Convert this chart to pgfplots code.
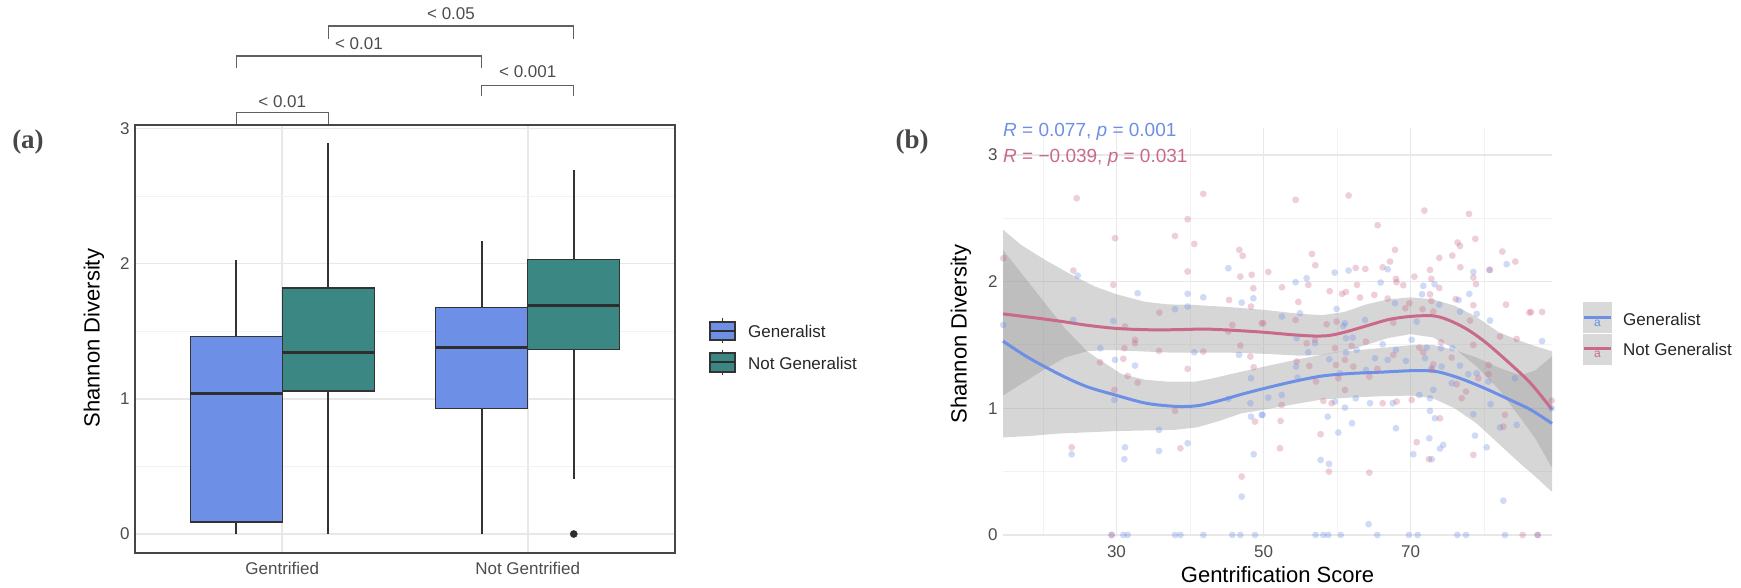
\documentclass[border=0pt]{standalone}
\usepackage{fontspec}
\setmainfont{Liberation Sans}
\newfontfamily\serifbold{Liberation Serif}
\usepackage{pgfplots}
\pgfplotsset{compat=1.18}
\usepgfplotslibrary{statistics}
\definecolor{genblue}{RGB}{109,143,229}
\definecolor{ngteal}{RGB}{59,135,132}
\definecolor{ngpink}{RGB}{201,106,139}
\definecolor{tickgray}{RGB}{77,77,77}
\definecolor{gridmaj}{RGB}{232,232,232}
\definecolor{gridmin}{RGB}{242,242,242}
\definecolor{bandgray}{RGB}{153,153,153}
\definecolor{keygray}{RGB}{217,217,217}

\pgfplotstableread{
x y
24.72 2.047
45.22 2.105
32.88 1.908
39.68 1.903
41.81 1.876
47.03 1.834
48.62 1.868
37.96 1.782
39.68 1.803
14.60 1.658
24.13 1.697
29.57 1.689
54.37 1.995
55.87 2.026
59.68 2.071
61.58 2.087
65.94 1.992
66.89 2.097
71.74 1.966
71.56 1.900
73.28 1.979
78.55 2.076
80.72 2.092
83.08 2.137
78.00 1.903
76.55 1.855
73.92 1.818
67.89 1.829
54.96 1.750
52.51 1.724
59.95 1.784
61.08 1.671
63.81 1.697
76.73 1.763
79.00 1.745
80.81 1.692
70.84 1.684
60.86 1.650
27.80 1.474
29.80 1.382
40.59 1.442
46.67 1.421
32.52 1.337
48.30 1.237
29.71 1.066
45.22 1.074
48.21 1.040
48.30 0.934
49.75 0.948
35.78 0.829
23.90 0.637
31.16 0.692
31.07 0.598
35.78 0.663
39.68 0.724
48.66 0.637
47.03 0.303
29.34 0
30.93 0
31.52 0
37.96 0
38.69 0
41.81 0
45.76 0
46.85 0
48.84 0
54.51 1.553
57.00 1.513
61.22 1.553
62.13 1.558
66.21 1.505
68.02 1.461
70.16 1.540
72.20 1.479
74.14 1.474
75.69 1.474
61.22 1.440
62.67 1.461
65.17 1.395
66.89 1.382
69.38 1.374
71.97 1.395
56.10 1.442
58.95 1.387
54.42 1.329
54.64 1.242
60.40 1.276
63.94 1.303
72.88 1.316
74.24 1.329
76.73 1.337
77.86 1.269
79.00 1.276
80.59 1.211
75.60 1.198
50.65 1.084
52.47 1.105
49.88 0.948
59.72 1.053
61.08 1.005
62.54 1.079
64.49 1.040
67.57 1.040
71.20 1.105
72.65 1.079
73.10 1.145
72.65 0.979
73.33 0.921
78.55 0.953
80.90 1.032
84.21 1.237
84.44 0.869
82.17 0.848
58.73 0.934
62.04 0.882
60.18 0.808
68.02 0.842
72.56 0.763
74.46 0.711
74.01 0.682
70.38 0.637
78.77 0.784
80.36 0.692
57.77 0.592
58.91 0.561
72.88 0.598
82.63 0.271
64.30 0.085
57.09 0
58.14 0
58.82 0
60.50 0
65.48 0
69.79 0
70.97 0
76.37 0
77.55 0
82.85 0
87.30 0
87.90 1.53
89.20 1.00
}\genpts

\pgfplotstableread{
x y
24.58 2.658
41.81 2.692
39.68 2.492
29.80 2.342
37.96 2.360
40.59 2.297
14.60 2.184
24.13 2.087
39.68 2.079
46.71 2.250
47.17 2.203
46.85 2.039
48.39 2.053
48.62 1.947
29.57 1.974
45.31 1.855
48.30 1.803
35.83 1.755
45.76 1.658
45.22 1.605
49.75 1.671
31.16 1.645
32.52 1.540
54.37 2.645
61.58 2.679
71.88 2.560
77.96 2.534
65.53 2.445
78.82 2.337
76.41 2.308
76.73 2.281
67.89 2.250
56.59 2.218
57.05 2.129
50.65 2.076
62.54 2.108
63.85 2.100
66.21 2.113
67.21 2.158
73.92 2.187
75.69 2.205
76.78 2.113
82.49 2.237
84.26 2.158
80.81 2.092
78.55 2.032
78.91 1.979
68.02 2.021
68.11 1.995
70.52 2.039
69.02 1.971
72.83 2.021
72.65 2.092
73.92 1.950
52.51 1.955
56.10 1.974
62.72 1.974
59.00 1.924
60.68 1.903
61.22 1.918
63.13 1.874
65.08 1.895
66.89 1.866
72.65 1.900
72.83 1.847
76.14 1.861
78.55 1.813
82.99 1.818
54.74 1.839
73.10 1.763
69.29 1.790
69.84 1.829
71.65 1.782
54.37 1.697
49.97 1.671
58.59 1.663
59.95 1.684
67.66 1.676
86.16 1.755
78.09 1.692
32.52 1.513
31.07 1.474
35.78 1.453
41.81 1.447
27.76 1.363
30.93 1.390
46.85 1.495
48.21 1.408
48.66 1.324
39.68 1.311
31.52 1.255
32.88 1.203
29.71 1.145
37.96 0.979
48.84 0.895
23.90 0.692
38.69 0.684
47.03 0.461
29.34 0
55.87 1.513
57.00 1.540
59.72 1.474
63.94 1.526
61.99 1.492
67.66 1.421
71.20 1.479
71.74 1.442
74.14 1.521
75.60 1.400
54.51 1.369
56.23 1.334
59.86 1.342
61.08 1.382
60.18 1.237
57.14 1.211
64.40 1.250
65.48 1.311
70.16 1.066
66.21 1.040
68.11 1.053
58.14 1.058
59.27 1.040
61.08 1.145
80.63 1.342
80.59 1.269
79.23 1.237
76.96 1.079
77.55 1.132
76.28 1.190
82.85 0.948
82.63 0.855
74.01 0.921
52.33 0.900
57.77 0.795
52.24 0.684
70.84 0.732
72.51 0.598
78.55 0.632
58.91 0.500
64.40 0.492
72.88 1.303
73.10 1.347
82.17 1.566
84.44 1.547
78.55 1.500
85.26 0
52.47 1.026
62.22 1.329
86.40 1.76
87.90 1.76
89.20 1.06
87.30 0
}\ngpts

\begin{document}
\begin{tikzpicture}[x=1pt,y=1pt]
\useasboundingbox (0,0) rectangle (1741,587);

% ---------------- panel (a) ----------------
\begin{axis}[
  at={(135pt,34pt)}, anchor=south west, scale only axis,
  width=540pt, height=428pt,
  xmin=0.4, xmax=2.6, ymin=-0.1405, ymax=3.025,
  xtick={1,2}, xticklabels={Gentrified, Not Gentrified},
  ytick={0,1,2,3}, minor ytick={0.5,1.5,2.5},
  grid=both,
  major grid style={draw=gridmaj, line width=1.6pt},
  minor grid style={draw=gridmin, line width=0.9pt},
  major tick length=0pt, minor tick length=0pt,
  axis line style={draw=black!72, line width=1.4pt},
  /pgf/number format/assume math mode=true,
  tick label style={font=\fontsize{17}{20}\selectfont, text=tickgray},
  xticklabel style={yshift=-6pt},
  yticklabel style={xshift=-2pt},
  ylabel={Shannon Diversity},
  every axis y label/.style={at={(axis description cs:-0.0759,0.502)}, rotate=90, anchor=center, font=\fontsize{22}{26}\selectfont},
  clip=false,
  boxplot/draw direction=y,
  boxplot/every median/.style={line width=3pt, draw=black!82},
]
% whiskers
\addplot[black!80, line width=1.7pt] coordinates {(0.8125,0) (0.8125,0.089)};
\addplot[black!80, line width=1.7pt] coordinates {(0.8125,1.46) (0.8125,2.03)};
\addplot[black!80, line width=1.7pt] coordinates {(1.1875,0) (1.1875,1.058)};
\addplot[black!80, line width=1.7pt] coordinates {(1.1875,1.82) (1.1875,2.89)};
\addplot[black!80, line width=1.7pt] coordinates {(1.8125,0) (1.8125,0.93)};
\addplot[black!80, line width=1.7pt] coordinates {(1.8125,1.673) (1.8125,2.166)};
\addplot[black!80, line width=1.7pt] coordinates {(2.1875,0.407) (2.1875,1.366)};
\addplot[black!80, line width=1.7pt] coordinates {(2.1875,2.03) (2.1875,2.69)};
% boxes
\addplot[draw=black!80, line width=1.3pt, fill=genblue,
  boxplot prepared={lower whisker=0, lower quartile=0.089, median=1.04,
    upper quartile=1.46, upper whisker=2.03, draw position=0.8125,
    box extend=0.375, whisker extend=0}] coordinates {};
\addplot[draw=black!80, line width=1.3pt, fill=ngteal,
  boxplot prepared={lower whisker=0, lower quartile=1.058, median=1.346,
    upper quartile=1.82, upper whisker=2.89, draw position=1.1875,
    box extend=0.375, whisker extend=0}] coordinates {};
\addplot[draw=black!80, line width=1.3pt, fill=genblue,
  boxplot prepared={lower whisker=0, lower quartile=0.93, median=1.38,
    upper quartile=1.673, upper whisker=2.166, draw position=1.8125,
    box extend=0.375, whisker extend=0}] coordinates {};
\addplot[draw=black!80, line width=1.3pt, fill=ngteal,
  boxplot prepared={lower whisker=0.407, lower quartile=1.366, median=1.69,
    upper quartile=2.03, upper whisker=2.69, draw position=2.1875,
    box extend=0.375, whisker extend=0}] coordinates {};
\addplot[only marks, mark=*, mark size=3.6pt, black!82] coordinates {(2.1875,0)};

% significance brackets
\addplot[black!62, line width=1.2pt, sharp plot] coordinates {(0.8125,3.03) (0.8125,3.12) (1.1875,3.12) (1.1875,3.03)};
\addplot[black!62, line width=1.2pt, sharp plot] coordinates {(1.8125,3.24) (1.8125,3.32) (2.1875,3.32) (2.1875,3.24)};
\addplot[black!62, line width=1.2pt, sharp plot] coordinates {(0.8125,3.447) (0.8125,3.535) (1.8125,3.535) (1.8125,3.447)};
\addplot[black!62, line width=1.2pt, sharp plot] coordinates {(1.1875,3.66) (1.1875,3.757) (2.1875,3.757) (2.1875,3.66)};
\node[font=\fontsize{17}{20}\selectfont, text=tickgray] at (axis cs:1,3.20) {< 0.01};
\node[font=\fontsize{17}{20}\selectfont, text=tickgray] at (axis cs:2,3.42) {< 0.001};
\node[font=\fontsize{17}{20}\selectfont, text=tickgray] at (axis cs:1.3125,3.625) {< 0.01};
\node[font=\fontsize{17}{20}\selectfont, text=tickgray] at (axis cs:1.6875,3.845) {< 0.05};
\end{axis}

% legend (a)
\draw[black!80, line width=1.2pt] (722.5,244) -- (722.5,269);
\draw[black!80, line width=1.2pt, fill=genblue] (710,247) rectangle (735,265);
\draw[black!82, line width=2pt] (710,256) -- (735,256);
\draw[black!80, line width=1.2pt] (722.5,212) -- (722.5,237);
\draw[black!80, line width=1.2pt, fill=ngteal] (710,215) rectangle (735,234);
\draw[black!82, line width=2pt] (710,224.5) -- (735,224.5);
\node[anchor=west, font=\fontsize{17}{20}\selectfont, text=black!85, inner sep=0pt] at (748,255.5) {Generalist};
\node[anchor=west, font=\fontsize{17}{20}\selectfont, text=black!85, inner sep=0pt] at (748,224) {Not Generalist};

\node[font=\serifbold\bfseries\fontsize{27}{31}\selectfont, text=black!72] at (28,445) {(a)};
\node[font=\serifbold\bfseries\fontsize{27}{31}\selectfont, text=black!72] at (912,445) {(b)};

% ---------------- panel (b) ----------------
\begin{axis}[
  at={(1003pt,50pt)}, anchor=south west, scale only axis,
  width=549pt, height=409pt,
  xmin=14.56, xmax=89.25, ymin=-0.016, ymax=3.212,
  xtick={30,50,70}, minor xtick={20,40,60,80},
  ytick={0,1,2,3}, minor ytick={0.5,1.5,2.5},
  grid=both,
  major grid style={draw=gridmaj, line width=1.5pt},
  minor grid style={draw=gridmin, line width=0.9pt},
  major tick length=0pt, minor tick length=0pt,
  axis line style={draw=none},
  /pgf/number format/assume math mode=true,
  tick label style={font=\fontsize{17}{20}\selectfont, text=tickgray},
  xticklabel style={yshift=-5pt},
  yticklabel style={xshift=-2pt},
  xlabel={Gentrification Score}, ylabel={Shannon Diversity},
  every axis x label/.style={at={(axis description cs:0.5,-0.093)}, anchor=center, font=\fontsize{22}{26}\selectfont},
  every axis y label/.style={at={(axis description cs:-0.0765,0.496)}, rotate=90, anchor=center, font=\fontsize{22}{26}\selectfont},
  clip=false,
]
\addplot[only marks, mark=*, mark size=3.4pt, color=genblue, draw opacity=0, fill opacity=0.33] table {\genpts};
\addplot[only marks, mark=*, mark size=3.4pt, color=ngpink, draw opacity=0, fill opacity=0.33] table {\ngpts};

% confidence bands
\addplot[fill=bandgray, fill opacity=0.4, draw=none] coordinates {
 (14.56,2.25) (17,2.07) (20,1.85) (23,1.63) (26,1.45) (27.5,1.39) (30.7,1.27) (33.9,1.225) (37,1.21) (40.7,1.21) (43,1.235) (45.2,1.265) (50.2,1.33) (55,1.39) (60,1.445) (65,1.47) (70.4,1.5) (73,1.5) (76,1.46) (79,1.4) (82,1.32) (85,1.26) (87,1.3) (89.25,1.41)
 (89.25,0.34) (87,0.46) (85,0.56) (82,0.72) (79,0.88) (76,1.0) (73,1.08) (70,1.1) (66,1.095) (62,1.085) (58,1.07) (54,1.03) (50.2,0.99) (47,0.96) (44,0.9) (41,0.85) (38,0.83) (34,0.825) (30,0.82) (26,0.81) (22,0.8) (18,0.78) (14.56,0.77)} -- cycle;
\addplot[fill=bandgray, fill opacity=0.4, draw=none] coordinates {
 (14.56,2.41) (17,2.29) (20.3,2.17) (24,2.05) (27.1,1.96) (30,1.9) (33.9,1.84) (37,1.82) (40.7,1.815) (45,1.8) (50.2,1.776) (55,1.745) (58,1.735) (61,1.76) (64,1.82) (67,1.86) (70,1.875) (73,1.86) (76,1.81) (79,1.72) (82,1.6) (85,1.53) (87,1.49) (89.25,1.45)
 (89.25,0.53) (87,0.76) (85,0.92) (82,1.15) (79,1.33) (76,1.47) (73,1.56) (70,1.585) (67,1.555) (64,1.5) (61,1.45) (58,1.42) (55,1.415) (50,1.43) (45,1.44) (41,1.44) (37,1.44) (33,1.45) (29,1.46) (26,1.45) (23,1.4) (20,1.3) (17,1.19) (14.56,1.1)} -- cycle;

% loess lines
\addplot[genblue, line width=3pt, smooth] coordinates {
 (14.56,1.53) (18,1.40) (22.5,1.26) (26,1.17) (29.8,1.105) (34,1.04) (38,1.015) (41,1.02) (44,1.06) (47,1.11) (50.2,1.158) (54,1.21) (58,1.255) (62,1.275) (66,1.285) (70.4,1.297) (73.5,1.29) (76.7,1.237) (80,1.16) (83.4,1.07) (86.3,0.99) (89.25,0.88)};
\addplot[ngpink, line width=3pt, smooth] coordinates {
 (14.56,1.745) (18,1.72) (22,1.69) (26,1.655) (30,1.63) (34,1.62) (38,1.62) (42,1.625) (46,1.615) (50,1.60) (54,1.58) (57,1.57) (59,1.575) (61,1.60) (64,1.65) (67,1.70) (70,1.725) (73,1.73) (75,1.70) (77.5,1.63) (80,1.53) (83,1.38) (86.3,1.2) (89.25,0.99)};

\node[anchor=west, inner sep=0pt, font=\fontsize{19}{22}\selectfont, text=genblue] at (axis cs:14.56,3.18) {{\itshape R} = 0.077, {\itshape p} = 0.001};
\node[anchor=west, inner sep=0pt, font=\fontsize{19}{22}\selectfont, text=ngpink] at (axis cs:14.56,2.98) {{\itshape R} = −0.039, {\itshape p} = 0.031};
\end{axis}

% legend (b)
\fill[keygray] (1583,254) rectangle (1612,285);
\fill[keygray] (1583,222) rectangle (1612,253);
\draw[genblue, line width=3pt] (1584,269) -- (1611,269);
\draw[ngpink, line width=3pt] (1584,238) -- (1611,238);
\node[font=\fontsize{12}{14}\selectfont, text=genblue, inner sep=0pt] at (1597.5,264) {a};
\node[font=\fontsize{12}{14}\selectfont, text=ngpink, inner sep=0pt] at (1597.5,233) {a};
\node[anchor=west, font=\fontsize{17}{20}\selectfont, text=black!85, inner sep=0pt] at (1623,268) {Generalist};
\node[anchor=west, font=\fontsize{17}{20}\selectfont, text=black!85, inner sep=0pt] at (1623,238) {Not Generalist};
\end{tikzpicture}
\end{document}
